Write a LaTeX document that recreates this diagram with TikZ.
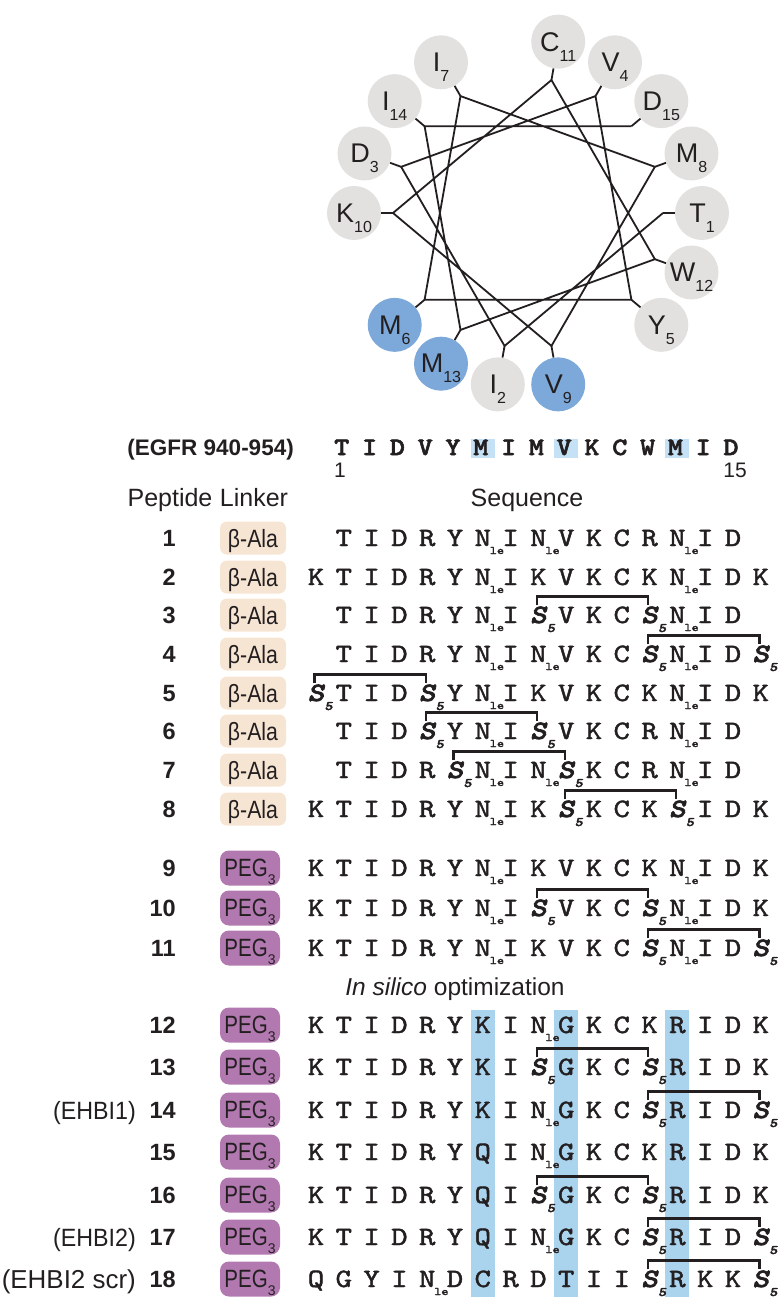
\documentclass[tikz,border=0pt]{standalone}
\usepackage{fontspec}
\usepackage{graphicx}
\setmainfont{Liberation Sans}
\newfontfamily\seqrm{lmmono10-regular}[Extension=.otf,FakeBold=1.5]
\newfontfamily\seqbf{lmmonolt10-bold}[Extension=.otf,FakeBold=2]
\newfontfamily\seqbfsl{lmmonolt10-boldoblique}[Extension=.otf,FakeBold=2.5]
\usetikzlibrary{calc}
\definecolor{wgray}{RGB}{226,225,223}
\definecolor{wblue}{RGB}{124,168,218}
\definecolor{bandblue}{RGB}{170,211,238}
\definecolor{hlblue}{RGB}{196,225,245}
\definecolor{peach}{RGB}{247,229,211}
\definecolor{pegpurple}{RGB}{178,120,176}
\definecolor{ink}{RGB}{35,31,32}

\newcommand{\resNle}{N\rlap{\kern-1pt\raisebox{-8pt}{\fontsize{11.5}{11.5}\selectfont le}}}
\newcommand{\resSfive}{{\seqbfsl S}\rlap{\kern0.3pt\raisebox{-9pt}{\seqbfsl\fontsize{13}{13}\selectfont 5}}}

\newcommand{\seqrow}[4]{%
  \foreach \tok [count=\ci from #3] in {#4} {
    \node[res] (r#1-\ci) at ({316+27.8*\ci},{#2+8}) {\scalebox{1.18}[1]{\tok}};
  }}
\newcommand{\staple}[3]{\draw[staple] ([xshift=-1.5pt,yshift=1pt]r#1-#2.north) -- ++(0,-9) -| ([xshift=-1.5pt,yshift=1pt]r#1-#3.north);}

\tikzset{
  res/.style={anchor=base,inner sep=0pt,text=ink,font=\seqrm\fontsize{26.5}{26.5}\selectfont},
  egfrres/.style={anchor=base,inner sep=0pt,text=ink,font=\seqbf\fontsize{25}{25}\selectfont},
  staple/.style={draw=ink,line width=2.4pt,line cap=butt},
  wheelc/.style={circle,minimum size=54pt,inner sep=0pt,text=ink,text depth=0pt,font=\fontsize{27}{27}\selectfont},
  wline/.style={draw=ink,line width=1.8pt,line join=round},
  lab/.style={inner sep=0pt,text=ink,font=\fontsize{24}{24}\selectfont},
  num/.style={inner sep=0pt,text=ink,font=\bfseries\fontsize{23.5}{23.5}\selectfont,anchor=base east},
  bala/.style={rounded corners=7pt,fill=peach,minimum width=66pt,minimum height=33pt,inner sep=0pt,text=ink,text depth=0pt,font=\fontsize{25}{25}\selectfont},
  peg/.style={rounded corners=9pt,fill=pegpurple,minimum width=60pt,minimum height=35pt,inner sep=0pt,text=ink,text depth=0pt,font=\fontsize{25}{25}\selectfont},
}

\begin{document}
\begin{tikzpicture}[x=1pt,y=-1pt]
\path[use as bounding box] (0,0) rectangle (781,1297);

% ---------- helical wheel ----------
\foreach \i/\L/\fc in {1/T/wgray,2/I/wgray,3/D/wgray,4/V/wgray,5/Y/wgray,6/M/wblue,7/I/wgray,8/M/wgray,9/V/wblue,10/K/wgray,11/C/wgray,12/W/wgray,13/M/wblue,14/I/wgray,15/D/wgray}{
  \pgfmathsetmacro{\ang}{-(\i-1)*100}
  \node[wheelc,fill=\fc] (w\i) at ({528+174*cos(\ang)},{213-174*sin(\ang)}) {\L\raisebox{-10pt}{\fontsize{16}{16}\selectfont\i}};
  \coordinate (p\i) at ({528+135*cos(\ang)},{213-135*sin(\ang)});
  \draw[wline] (w\i) -- (p\i);
}
\draw[wline] (p1) -- (p2) -- (p3) -- (p4) -- (p5) -- (p6) -- (p7) -- (p8) -- (p9) -- (p10) -- (p11) -- (p12) -- (p13) -- (p14) -- (p15);

% ---------- EGFR reference ----------
\foreach \cc in {6,9,13}{
  \fill[hlblue] ({316+27.8*\cc-12},439) rectangle ++(24,19);
}
\node[lab,anchor=base east,font=\bfseries\fontsize{22.5}{22.5}\selectfont] (egfr) at (294,455) {(EGFR 940-954)};
\foreach \tok [count=\ci from 1] in {T,I,D,V,Y,M,I,M,V,K,C,W,M,I,D}{
  \node[egfrres] (e\ci) at ({316+27.8*\ci-2},{455}) {\scalebox{1.15}[1]{\tok}};
}
\node[lab,anchor=base,font=\fontsize{21}{21}\selectfont] (pos1) at (340,477) {1};
\node[lab,anchor=base,font=\fontsize{21}{21}\selectfont] (pos15) at (735,477) {15};

% ---------- headers ----------
\node[lab,anchor=base,font=\fontsize{25}{25}\selectfont] (hpep) at (170,506) {Peptide};
\node[lab,anchor=base,font=\fontsize{25}{25}\selectfont] (hlink) at (254,506) {Linker};
\node[lab,anchor=base,font=\fontsize{25}{25}\selectfont] (hseq) at (527,506) {Sequence};

% ---------- bands for optimized rows ----------
\foreach \cc in {6,9,13}{
  \fill[bandblue] ({316+27.8*\cc-12},1010) rectangle ++(24,287);
}

% ---------- rows ----------
\foreach \n/\y in {1/538,2/577,3/615,4/654,5/693,6/731,7/770,8/809}{
  \node[num] (n\n) at (176,{\y+8.5}) {\n};
  \node[bala] (L\n) at (253,\y) {\scalebox{0.85}[1]{β-Ala}};
}
\foreach \n/\y in {9/868,10/908,11/948,12/1025,13/1067,14/1110,15/1152,16/1195,17/1237,18/1279}{
  \node[num] (n\n) at (176,{\y+8.5}) {\n};
  \node[peg] (L\n) at (250,\y) {\scalebox{0.82}[1]{PEG}\raisebox{-8pt}{\fontsize{14}{14}\selectfont 3}};
}
\node[lab,anchor=base east,font=\fontsize{25}{25}\selectfont] (ehbi1) at (136,1119) {\scalebox{0.93}[1]{(EHBI1)}};
\node[lab,anchor=base east,font=\fontsize{25}{25}\selectfont] (ehbi2) at (136,1246) {\scalebox{0.93}[1]{(EHBI2)}};
\node[lab,anchor=base east,font=\fontsize{25}{25}\selectfont] (ehbi2s) at (136,1288) {\resizebox{134pt}{!}{(EHBI2 scr)}};

\node[lab,anchor=base,font=\fontsize{24.5}{24.5}\selectfont] (insilico) at (455,995) {\textit{In silico} optimization};

\seqrow{1}{538}{1}{T,I,D,R,Y,\resNle,I,\resNle,V,K,C,R,\resNle,I,D}
\seqrow{2}{577}{0}{K,T,I,D,R,Y,\resNle,I,K,V,K,C,K,\resNle,I,D,K}
\seqrow{3}{615}{1}{T,I,D,R,Y,\resNle,I,\resSfive,V,K,C,\resSfive,\resNle,I,D}
\seqrow{4}{654}{1}{T,I,D,R,Y,\resNle,I,\resNle,V,K,C,\resSfive,\resNle,I,D,\resSfive}
\seqrow{5}{693}{0}{\resSfive,T,I,D,\resSfive,Y,\resNle,I,K,V,K,C,K,\resNle,I,D,K}
\seqrow{6}{731}{1}{T,I,D,\resSfive,Y,\resNle,I,\resSfive,V,K,C,R,\resNle,I,D}
\seqrow{7}{770}{1}{T,I,D,R,\resSfive,\resNle,I,\resNle,\resSfive,K,C,R,\resNle,I,D}
\seqrow{8}{809}{0}{K,T,I,D,R,Y,\resNle,I,K,\resSfive,K,C,K,\resSfive,I,D,K}
\seqrow{9}{868}{0}{K,T,I,D,R,Y,\resNle,I,K,V,K,C,K,\resNle,I,D,K}
\seqrow{10}{908}{0}{K,T,I,D,R,Y,\resNle,I,\resSfive,V,K,C,\resSfive,\resNle,I,D,K}
\seqrow{11}{948}{0}{K,T,I,D,R,Y,\resNle,I,K,V,K,C,\resSfive,\resNle,I,D,\resSfive}
\seqrow{12}{1025}{0}{K,T,I,D,R,Y,K,I,\resNle,G,K,C,K,R,I,D,K}
\seqrow{13}{1067}{0}{K,T,I,D,R,Y,K,I,\resSfive,G,K,C,\resSfive,R,I,D,K}
\seqrow{14}{1110}{0}{K,T,I,D,R,Y,K,I,\resNle,G,K,C,\resSfive,R,I,D,\resSfive}
\seqrow{15}{1152}{0}{K,T,I,D,R,Y,Q,I,\resNle,G,K,C,K,R,I,D,K}
\seqrow{16}{1195}{0}{K,T,I,D,R,Y,Q,I,\resSfive,G,K,C,\resSfive,R,I,D,K}
\seqrow{17}{1237}{0}{K,T,I,D,R,Y,Q,I,\resNle,G,K,C,\resSfive,R,I,D,\resSfive}
\seqrow{18}{1279}{0}{Q,G,Y,I,\resNle,D,C,R,D,T,I,I,\resSfive,R,K,K,\resSfive}

% ---------- staples ----------
\staple{3}{8}{12}
\staple{4}{12}{16}
\staple{5}{0}{4}
\staple{6}{4}{8}
\staple{7}{5}{9}
\staple{8}{9}{13}
\staple{10}{8}{12}
\staple{11}{12}{16}
\staple{13}{8}{12}
\staple{14}{12}{16}
\staple{16}{8}{12}
\staple{17}{12}{16}
\staple{18}{12}{16}
\end{tikzpicture}
\end{document}
